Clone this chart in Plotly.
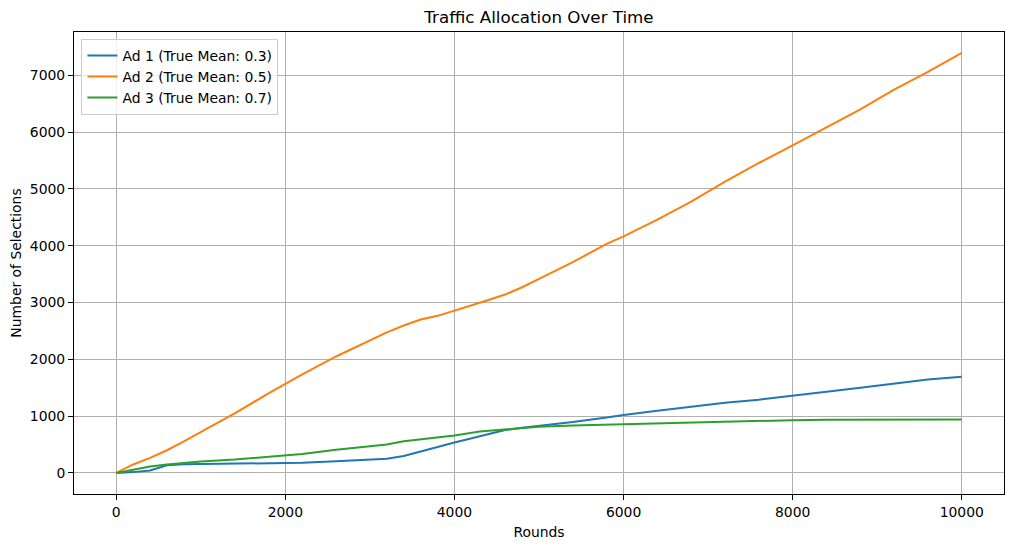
import plotly.graph_objects as go

# values
rounds = [0, 200, 400, 600, 800, 1000, 1400, 1800, 2200, 2600, 3000, 3200, 3400,
          3600, 3800, 4000, 4300, 4600, 4800, 5000, 5400, 5800, 6000, 6400, 6800,
          7200, 7600, 8000, 8400, 8800, 9200, 9600, 10000]

ad1 = [0, 15, 45, 135, 152, 157, 163, 170, 180, 205, 232, 250, 300, 380, 460,
       535, 645, 755, 795, 825, 895, 975, 1022, 1095, 1170, 1235, 1290, 1365,
       1430, 1500, 1570, 1645, 1692]

ad2 = [0, 150, 265, 400, 555, 715, 1048, 1400, 1735, 2050, 2340, 2475, 2595,
       2700, 2765, 2855, 2995, 3140, 3268, 3415, 3712, 4030, 4164, 4460, 4777,
       5126, 5455, 5765, 6081, 6400, 6746, 7060, 7392]

ad3 = [0, 60, 115, 150, 178, 200, 235, 280, 335, 410, 470, 500, 560, 595, 630,
       660, 730, 770, 790, 815, 835, 850, 858, 870, 890, 905, 918, 930, 935,
       938, 940, 940, 940]

names = ["Ad 1 (True Mean: 0.3)", "Ad 2 (True Mean: 0.5)", "Ad 3 (True Mean: 0.7)"]
colors = ["#1f77b4", "#ff7f0e", "#2ca02c"]

fig = go.Figure()
for name, vals, col in zip(names, [ad1, ad2, ad3], colors):
    fig.add_trace(go.Scatter(x=rounds, y=vals, name=name, mode="lines",
                             line=dict(color=col, width=2)))

axis_style = dict(showline=True, linecolor="black", linewidth=1, mirror=True,
                  ticks="outside", ticklen=5, tickcolor="black",
                  showgrid=True, gridcolor="#b0b0b0", gridwidth=1,
                  zeroline=False, automargin=False, tickformat="d",
                  tickfont=dict(size=13.9, color="black"))

# the page body has an 8px margin, so the figure is sized/offset to compensate
fig.update_layout(
    width=1006, height=539,
    template="none",
    font=dict(family="DejaVu Sans", size=13.9, color="black"),
    paper_bgcolor="white", plot_bgcolor="white",
    margin=dict(l=66, r=10, t=24, b=53),
    title=dict(text="Traffic Allocation Over Time", font=dict(size=16.7),
               x=0.5, xref="paper", xanchor="center",
               y=1 - 9 / 539, yref="container", yanchor="middle"),
    xaxis=dict(axis_style, range=[-500, 10500], dtick=2000,
               title=dict(text="Rounds", font=dict(size=13.9), standoff=8)),
    yaxis=dict(axis_style, range=[-370, 7760], dtick=1000,
               title=dict(text="Number of Selections", font=dict(size=13.9), standoff=8)),
    legend=dict(x=0.008, y=0.985, xanchor="left", yanchor="top",
                bgcolor="rgba(255,255,255,0.8)", bordercolor="#cccccc", borderwidth=1,
                font=dict(size=13.9), tracegroupgap=0),
    showlegend=True,
)

fig.write_html("out.html")
